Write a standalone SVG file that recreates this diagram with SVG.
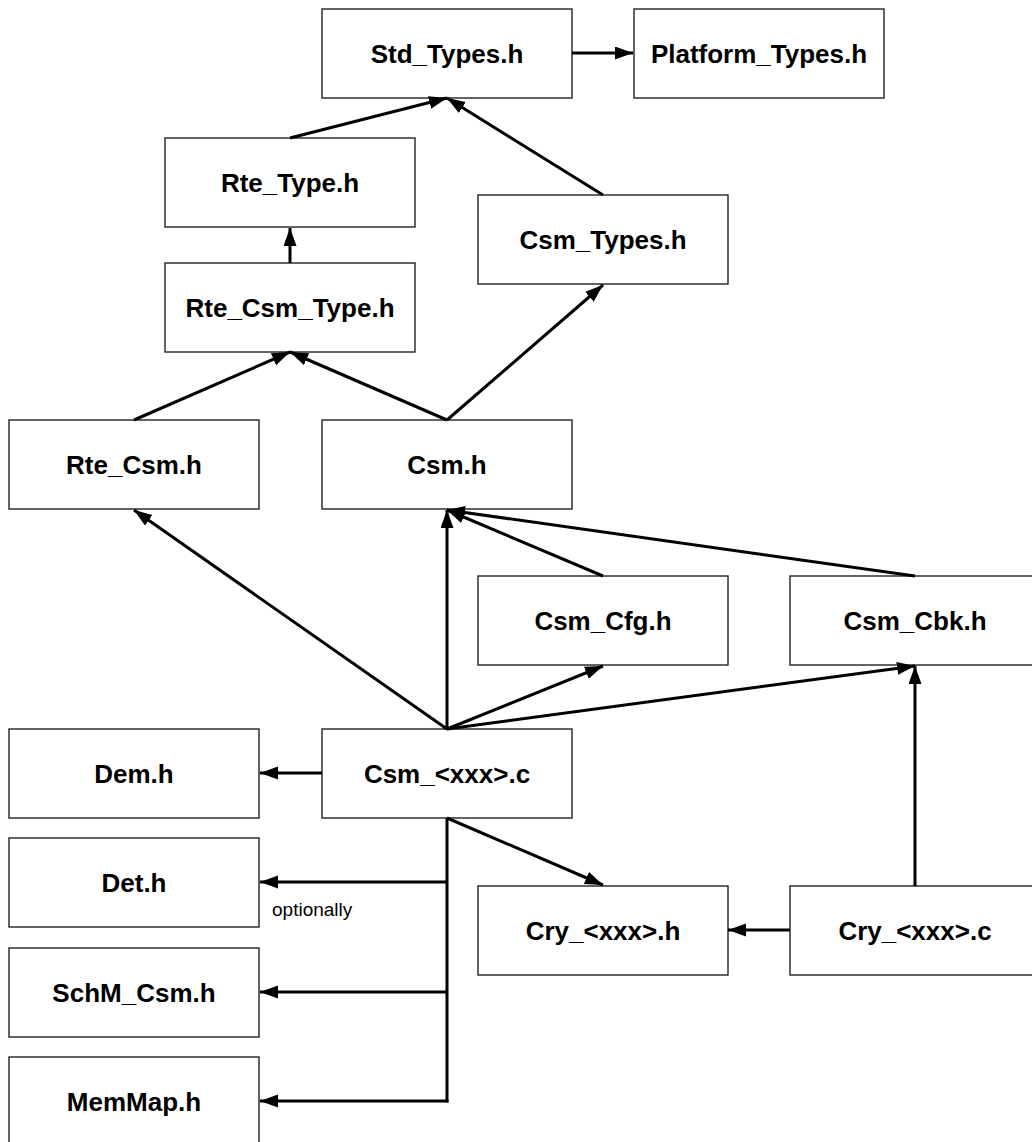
<svg xmlns="http://www.w3.org/2000/svg" width="1032" height="1142" viewBox="0 0 1032 1142">
  <style>
    .box rect { fill: #ffffff; stroke: #222222; stroke-width: 1.4; }
    .box text { font-family: "Liberation Sans", Arial, sans-serif; font-weight: bold; font-size: 26px; fill: #000000; text-anchor: middle; }
    .edge { stroke: #000000; stroke-width: 3; fill: none; }
    .note { font-family: "Liberation Sans", Arial, sans-serif; font-size: 19px; fill: #000000; }
  </style>
  <defs>
    <marker id="arrow" markerUnits="userSpaceOnUse" markerWidth="19" markerHeight="14" refX="18" refY="6.5" orient="auto">
      <path d="M0,0 L18,6.5 L0,13 Z" fill="#000000"/>
    </marker>
  </defs>
  <rect width="1032" height="1142" fill="#ffffff"/>

  <!-- header nodes -->
  <g id="std_types" class="box"><rect x="322" y="9" width="250" height="89"/><text x="447" y="62.5">Std_Types.h</text></g>
  <g id="platform_types" class="box"><rect x="634" y="9" width="250" height="89"/><text x="759" y="62.5">Platform_Types.h</text></g>
  <g id="rte_type" class="box"><rect x="165" y="138" width="250" height="89"/><text x="290" y="191.5">Rte_Type.h</text></g>
  <g id="csm_types" class="box"><rect x="478" y="195" width="250" height="89"/><text x="603" y="248.5">Csm_Types.h</text></g>
  <g id="rte_csm_type" class="box"><rect x="165" y="263" width="250" height="89"/><text x="290" y="316.5">Rte_Csm_Type.h</text></g>
  <g id="rte_csm" class="box"><rect x="9" y="420" width="250" height="89"/><text x="134" y="473.5">Rte_Csm.h</text></g>
  <g id="csm" class="box"><rect x="322" y="420" width="250" height="89"/><text x="447" y="473.5">Csm.h</text></g>
  <g id="csm_cfg" class="box"><rect x="478" y="576" width="250" height="89"/><text x="603" y="629.5">Csm_Cfg.h</text></g>
  <g id="csm_cbk" class="box"><rect x="790" y="576" width="250" height="89"/><text x="915" y="629.5">Csm_Cbk.h</text></g>
  <g id="dem" class="box"><rect x="9" y="729" width="250" height="89"/><text x="134" y="782.5">Dem.h</text></g>
  <g id="csm_xxx_c" class="box"><rect x="322" y="729" width="250" height="89"/><text x="447" y="782.5">Csm_&lt;xxx&gt;.c</text></g>
  <g id="det" class="box"><rect x="9" y="838" width="250" height="89"/><text x="134" y="891.5">Det.h</text></g>
  <g id="cry_xxx_h" class="box"><rect x="478" y="886" width="250" height="89"/><text x="603" y="939.5">Cry_&lt;xxx&gt;.h</text></g>
  <g id="cry_xxx_c" class="box"><rect x="790" y="886" width="250" height="89"/><text x="915" y="939.5">Cry_&lt;xxx&gt;.c</text></g>
  <g id="schm_csm" class="box"><rect x="9" y="948" width="250" height="89"/><text x="134" y="1001.5">SchM_Csm.h</text></g>
  <g id="memmap" class="box"><rect x="9" y="1057" width="250" height="95"/><text x="134" y="1110.5">MemMap.h</text></g>

  <!-- include dependencies -->
  <g id="connectors">
    <line class="edge" x1="572" y1="53" x2="633" y2="53" marker-end="url(#arrow)"/>
    <line class="edge" x1="290" y1="138" x2="447" y2="98" marker-end="url(#arrow)"/>
    <line class="edge" x1="603" y1="195" x2="447" y2="98" marker-end="url(#arrow)"/>
    <line class="edge" x1="290" y1="263" x2="290" y2="228" marker-end="url(#arrow)"/>
    <line class="edge" x1="134" y1="420" x2="290" y2="352" marker-end="url(#arrow)"/>
    <line class="edge" x1="447" y1="420" x2="290" y2="352" marker-end="url(#arrow)"/>
    <line class="edge" x1="447" y1="420" x2="603" y2="285" marker-end="url(#arrow)"/>
    <line class="edge" x1="447" y1="729" x2="134" y2="510" marker-end="url(#arrow)"/>
    <line class="edge" x1="447" y1="729" x2="447" y2="510" marker-end="url(#arrow)"/>
    <line class="edge" x1="447" y1="729" x2="603" y2="666" marker-end="url(#arrow)"/>
    <line class="edge" x1="447" y1="729" x2="915" y2="666" marker-end="url(#arrow)"/>
    <line class="edge" x1="603" y1="576" x2="447" y2="510" marker-end="url(#arrow)"/>
    <line class="edge" x1="915" y1="576" x2="447" y2="510" marker-end="url(#arrow)"/>
    <line class="edge" x1="322" y1="773" x2="260" y2="773" marker-end="url(#arrow)"/>
    <line class="edge" x1="447" y1="818" x2="603" y2="885" marker-end="url(#arrow)"/>
    <line class="edge" x1="447" y1="818" x2="447" y2="1102.5"/>
    <line class="edge" x1="447" y1="882" x2="260" y2="882" marker-end="url(#arrow)"/>
    <line class="edge" x1="447" y1="992" x2="260" y2="992" marker-end="url(#arrow)"/>
    <line class="edge" x1="448.5" y1="1101" x2="260" y2="1101" marker-end="url(#arrow)"/>
    <line class="edge" x1="790" y1="930" x2="728" y2="930" marker-end="url(#arrow)"/>
    <line class="edge" x1="915" y1="886" x2="915" y2="666" marker-end="url(#arrow)"/>
  </g>
  <text class="note" x="272" y="916">optionally</text>
</svg>
